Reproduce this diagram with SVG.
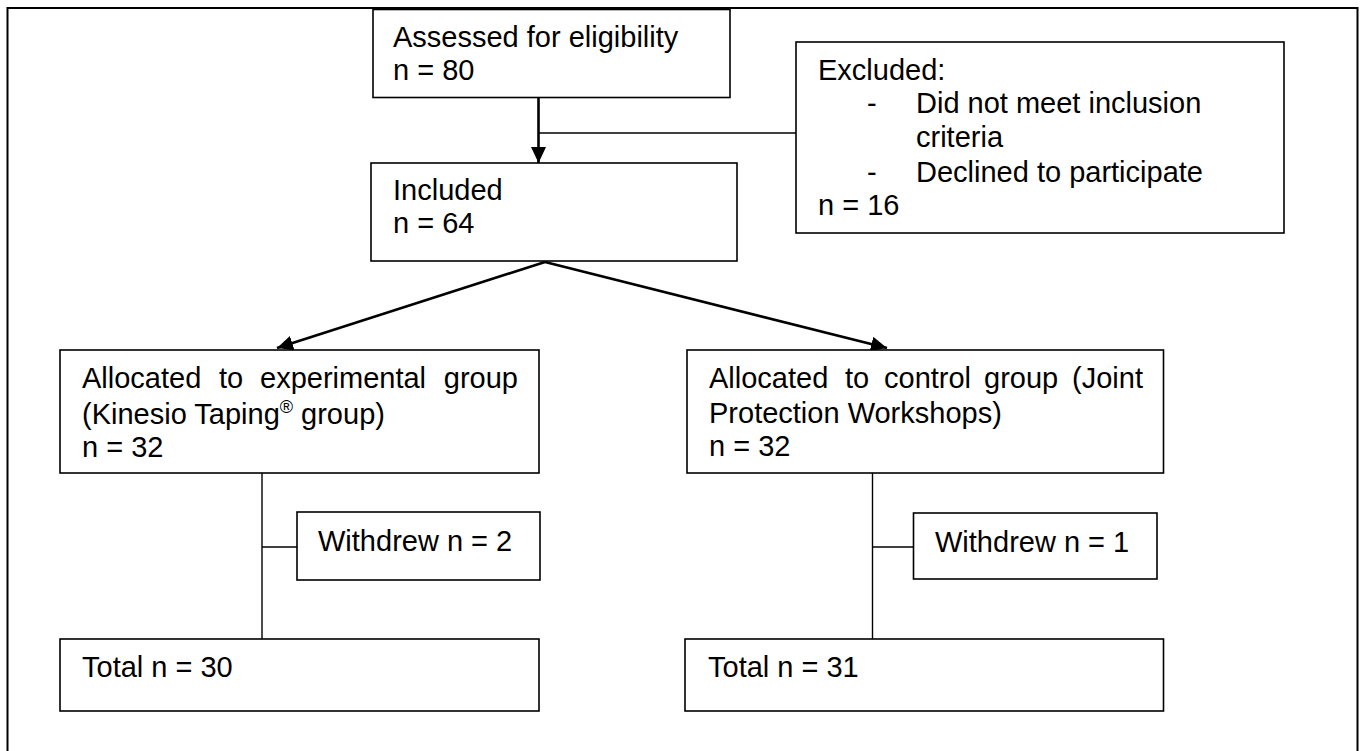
<svg xmlns="http://www.w3.org/2000/svg" width="1368" height="751" viewBox="0 0 1368 751">
  <style>
    .box { fill: #ffffff; stroke: #000000; stroke-width: 1.6; }
    .t { font-family: "Liberation Sans", Arial, sans-serif; font-size: 29px; fill: #000000; }
    .sup { font-size: 18px; }
    .arrow { fill: none; stroke: #000000; stroke-width: 2.6; marker-end: url(#ah); }
    .line { fill: none; stroke: #000000; stroke-width: 1.4; }
    .frame { fill: none; stroke: #000000; stroke-width: 2; }
  </style>
  <defs>
    <marker id="ah" markerUnits="userSpaceOnUse" markerWidth="16" markerHeight="15" viewBox="0 0 16 15" refX="16" refY="7.5" orient="auto">
      <path d="M0,0 L16,7.5 L0,15 z" fill="#000000"/>
    </marker>
  </defs>
  <rect x="0" y="0" width="1368" height="751" fill="#ffffff"/>
  <path class="frame" d="M7.5,760 V8 H1357.5 V760"/>

  <g id="connectors">
    <line class="arrow" x1="538.5" y1="97" x2="538.5" y2="163"/>
    <line class="line" x1="538.5" y1="133" x2="796" y2="133"/>
    <line class="arrow" x1="545" y1="262" x2="277" y2="348"/>
    <line class="arrow" x1="545" y1="262" x2="887" y2="348"/>
    <line class="line" x1="262" y1="473" x2="262" y2="639"/>
    <line class="line" x1="262" y1="547" x2="297" y2="547"/>
    <line class="line" x1="872.5" y1="473" x2="872.5" y2="639"/>
    <line class="line" x1="872.5" y1="547" x2="913.5" y2="547"/>
  </g>

  <g id="assessed">
    <rect class="box" x="373" y="9.5" width="357" height="88"/>
    <text class="t" x="393" y="47">Assessed for eligibility</text>
    <text class="t" x="393" y="80">n = 80</text>
  </g>

  <g id="excluded">
    <rect class="box" x="796" y="42" width="488" height="191"/>
    <text class="t" x="818" y="80">Excluded:</text>
    <text class="t" x="867" y="113">-</text>
    <text class="t" x="916" y="113">Did not meet inclusion</text>
    <text class="t" x="916" y="147">criteria</text>
    <text class="t" x="867" y="182">-</text>
    <text class="t" x="916" y="182">Declined to participate</text>
    <text class="t" x="818" y="215">n = 16</text>
  </g>

  <g id="included">
    <rect class="box" x="371" y="163" width="366" height="98"/>
    <text class="t" x="393" y="200">Included</text>
    <text class="t" x="393" y="233">n = 64</text>
  </g>

  <g id="allocated-experimental">
    <rect class="box" x="60" y="350" width="479" height="123"/>
    <text class="t" x="82" y="388">Allocated</text>
    <text class="t" x="219" y="388">to</text>
    <text class="t" x="260" y="388">experimental</text>
    <text class="t" x="518" y="388" text-anchor="end">group</text>
    <text class="t" x="82" y="424">(Kinesio Taping<tspan class="sup" dy="-11">®</tspan><tspan dy="11"> group)</tspan></text>
    <text class="t" x="82" y="457">n = 32</text>
  </g>

  <g id="allocated-control">
    <rect class="box" x="687" y="350" width="476.5" height="123"/>
    <text class="t" x="709" y="388">Allocated</text>
    <text class="t" x="845" y="388">to</text>
    <text class="t" x="884" y="388">control</text>
    <text class="t" x="984" y="388">group</text>
    <text class="t" x="1143" y="388" text-anchor="end">(Joint</text>
    <text class="t" x="709" y="423">Protection Workshops)</text>
    <text class="t" x="709" y="456">n = 32</text>
  </g>

  <g id="withdrew-experimental">
    <rect class="box" x="297" y="512" width="243" height="68"/>
    <text class="t" x="318" y="551">Withdrew n = 2</text>
  </g>

  <g id="withdrew-control">
    <rect class="box" x="913.5" y="513" width="243.5" height="66"/>
    <text class="t" x="935" y="552">Withdrew n = 1</text>
  </g>

  <g id="total-experimental">
    <rect class="box" x="60" y="639" width="479" height="72"/>
    <text class="t" x="82" y="677">Total n = 30</text>
  </g>

  <g id="total-control">
    <rect class="box" x="685" y="639" width="478.5" height="72"/>
    <text class="t" x="708" y="677">Total n = 31</text>
  </g>
</svg>
